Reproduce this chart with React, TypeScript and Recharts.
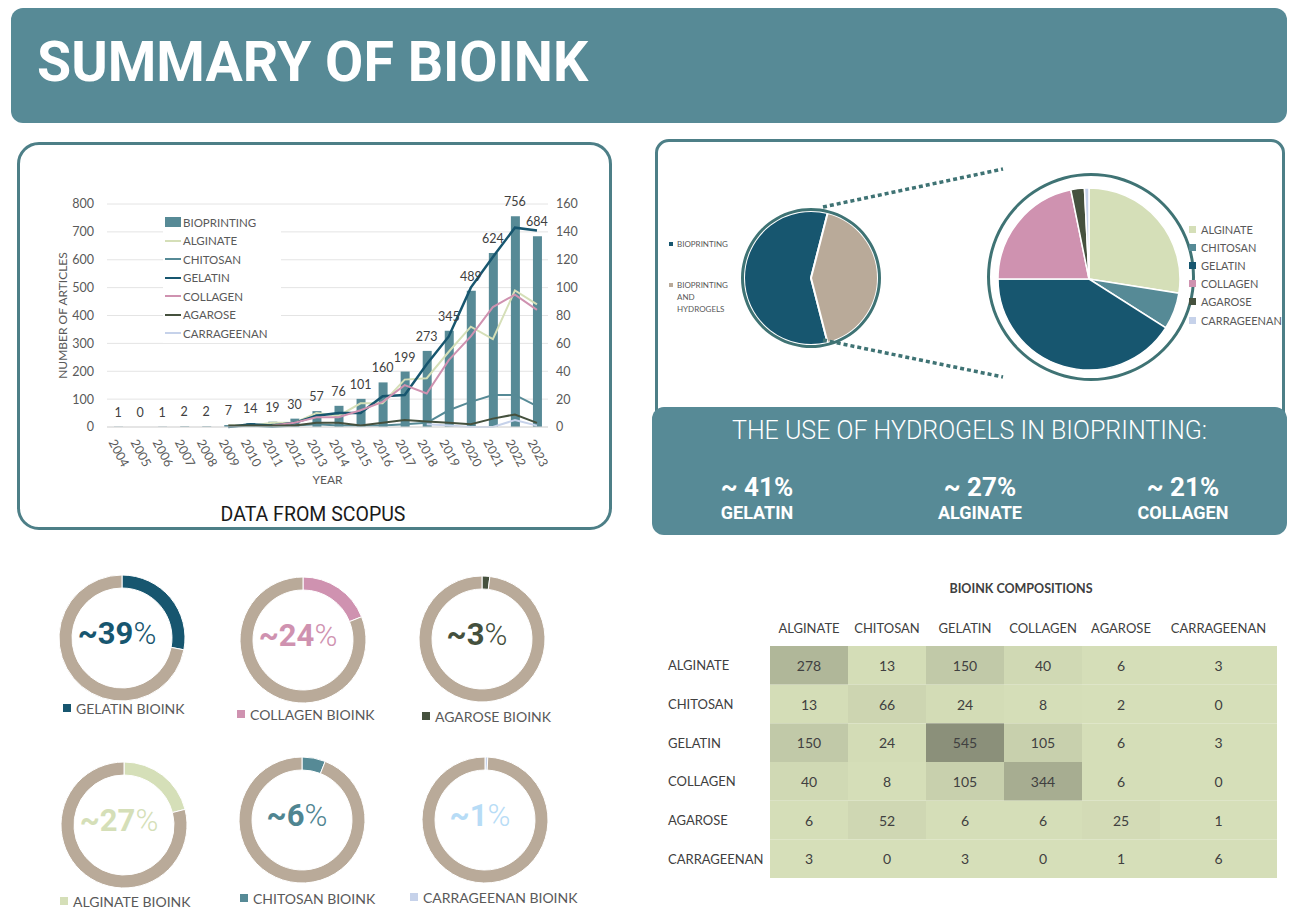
import React from 'react'
import {
  ComposedChart, Bar, Line, XAxis, YAxis, CartesianGrid, Legend, LabelList,
  PieChart, Pie, Cell, ScatterChart, Scatter,
} from 'recharts'

// ---- data ----
const years = ['2004', '2005', '2006', '2007', '2008', '2009', '2010', '2011', '2012', '2013',
  '2014', '2015', '2016', '2017', '2018', '2019', '2020', '2021', '2022', '2023']
const bioprinting = [1, 0, 1, 2, 2, 7, 14, 19, 30, 57, 76, 101, 160, 199, 273, 345, 489, 624, 756, 684]
const alginate = [null, null, null, null, null, 1, 1, 3, 3, 10, 8, 17, 17, 34, 35, 54, 72, 63, 98, 88]
const chitosan = [null, null, null, null, null, 0, 1, 0, 1, 2, 1, 1, 1, 2, 3, 12, 18, 23, 23, 15]
const gelatin = [null, null, null, null, null, 0, 2, 1, 3, 8, 10, 10, 22, 23, 45, 65, 100, 122, 143, 141]
const collagen = [null, null, null, null, null, null, null, 1, 3, 7, 7, 12, 18, 30, 24, 48, 65, 86, 95, 84]
const agarose = [null, null, null, null, null, 1, 1, 1, 1, 3, 3, 1, 3, 5, 4, 3, 2, 6, 9, 3]
const carrageenan = [null, null, null, null, null, null, null, null, null, null, null, null, null, null, 2, 1, 0, 0, 5, 1]
const leftTicks = [0, 100, 200, 300, 400, 500, 600, 700, 800]
const rightTicks = [0, 20, 40, 60, 80, 100, 120, 140, 160]

const splitNames = ['BIOPRINTING', 'BIOPRINTING AND HYDROGELS']
const splitShares = [58, 42]

const hydrogelNames = ['ALGINATE', 'CHITOSAN', 'GELATIN', 'COLLAGEN', 'AGAROSE', 'CARRAGEENAN']
const hydrogelShares = [27.5, 6.5, 41, 21.8, 2.4, 0.8]

const highlightPcts = ['~ 41%', '~ 27%', '~ 21%']
const highlightNames = ['GELATIN', 'ALGINATE', 'COLLAGEN']

const donutNames = ['GELATIN BIOINK', 'COLLAGEN BIOINK', 'AGAROSE BIOINK', 'ALGINATE BIOINK', 'CHITOSAN BIOINK', 'CARRAGEENAN BIOINK']
const donutKeys = ['GELATIN', 'COLLAGEN', 'AGAROSE', 'ALGINATE', 'CHITOSAN', 'CARRAGEENAN']
const donutLabels = ['~39', '~24', '~3', '~27', '~6', '~1']
const donutShares = [28, 19, 2, 21, 6, 0.7]

const matrixValues = [
  [278, 13, 150, 40, 6, 3],
  [13, 66, 24, 8, 2, 0],
  [150, 24, 545, 105, 6, 3],
  [40, 8, 105, 344, 6, 0],
  [6, 52, 6, 6, 25, 1],
  [3, 0, 3, 0, 1, 6],
]

// ---- styles ----
const TEAL = '#578a96'
const BORDER = '#4d7f87'
const GRAY = '#595959'
const TAN = '#b9aa99'
const COLORS: Record<string, string> = {
  BIOPRINTING: TEAL,
  ALGINATE: '#d5dfb8',
  CHITOSAN: '#568a96',
  GELATIN: '#17566f',
  COLLAGEN: '#cf92b0',
  AGAROSE: '#45513e',
  CARRAGEENAN: '#c6d2ea',
}
const legendOrder = ['BIOPRINTING', ...hydrogelNames]
const donutTextColors = ['#17566f', '#cf92b0', '#44503d', '#d5dfb8', '#4f8591', '#b7dcf6']
// centre of each donut, legend anchor
const donutSpots = [
  { cx: 117, cy: 633, lx: 63, ly: 708 },
  { cx: 298, cy: 635, lx: 237, ly: 714 },
  { cx: 477, cy: 634, lx: 422, ly: 716 },
  { cx: 119, cy: 820, lx: 60, ly: 901 },
  { cx: 297, cy: 815, lx: 240, ly: 898 },
  { cx: 480, cy: 815, lx: 410, ly: 897 },
]

const trendData = years.map((year, i) => ({
  year,
  bioprinting: bioprinting[i],
  alginate: alginate[i],
  chitosan: chitosan[i],
  gelatin: gelatin[i],
  collagen: collagen[i],
  agarose: agarose[i],
  carrageenan: carrageenan[i],
}))

const cellData = hydrogelNames.flatMap((row, r) =>
  hydrogelNames.map((col, c) => ({ row, col, v: matrixValues[r][c] }))
)
const maxCell = Math.max(...matrixValues.flat())
const LOW = [214, 223, 185]
const HIGH = [139, 144, 122]
function heatColor(v: number) {
  const t = v / maxCell
  const c = LOW.map((l, i) => Math.round(l + (HIGH[i] - l) * t))
  return `rgb(${c[0]},${c[1]},${c[2]})`
}

const CELL_W = 78
const CELL_H = 232 / 6
const LAST_EXTRA = 39

function YearTick({ x, y, payload }: any) {
  return (
    <text transform={`translate(${x + 1},${y + 18}) rotate(62)`} textAnchor="middle" dominantBaseline="central"
      fill={GRAY} fontSize={12.5}>
      {payload.value}
    </text>
  )
}

function TrendLegend({ payload }: any) {
  const items = [...(payload || [])]
    .filter((p: any) => legendOrder.includes(p.value))
    .sort((a: any, b: any) => legendOrder.indexOf(a.value) - legendOrder.indexOf(b.value))
  return (
    <div style={{ background: '#fff', padding: '0 14px 0 2px', fontSize: 11.5, color: GRAY }}>
      {items.map((p: any) => (
        <div key={p.value} style={{ display: 'flex', alignItems: 'center', height: 18.5 }}>
          {p.type === 'rect'
            ? <span style={{ width: 16, height: 10, background: p.color, marginRight: 2 }} />
            : <span style={{ width: 16, height: 2, background: p.color, marginRight: 2 }} />}
          <span>{p.value}</span>
        </div>
      ))}
    </div>
  )
}

function HeaderTick({ x, payload }: any) {
  const last = payload.value === hydrogelNames[hydrogelNames.length - 1]
  return (
    <text x={x + (last ? LAST_EXTRA / 2 : 0)} y={28} textAnchor="middle" dominantBaseline="central"
      fill="#404040" fontSize={13}>
      {payload.value}
    </text>
  )
}

function RowTick({ y, payload }: any) {
  return (
    <text x={18} y={y} textAnchor="start" dominantBaseline="central" fill="#404040" fontSize={13}>
      {payload.value}
    </text>
  )
}

function HeatCell({ cx, cy, payload }: any) {
  const last = payload.col === hydrogelNames[hydrogelNames.length - 1]
  const w = CELL_W + (last ? LAST_EXTRA : 0)
  const x0 = cx - CELL_W / 2
  return (
    <g>
      <rect x={x0} y={cy - CELL_H / 2} width={w} height={CELL_H} fill={heatColor(payload.v)} />
      <text x={x0 + w / 2} y={cy} textAnchor="middle" dominantBaseline="central" fill="#404040" fontSize={14}>
        {payload.v}
      </text>
    </g>
  )
}

function Donut({ i }: { i: number }) {
  const spot = donutSpots[i]
  const key = donutKeys[i]
  const data = [
    { name: donutNames[i], value: donutShares[i] },
    { name: 'REST', value: 100 - donutShares[i] },
  ]
  return (
    <>
      <div style={{ position: 'absolute', left: spot.cx - 70, top: spot.cy - 70 }}>
        <PieChart width={140} height={140}>
          <Pie data={data} dataKey="value" cx={70} cy={70} innerRadius={50} outerRadius={63}
            startAngle={90} endAngle={-270} stroke="#fff" strokeWidth={1} isAnimationActive={false}>
            <Cell fill={COLORS[key]} />
            <Cell fill={TAN} />
          </Pie>
        </PieChart>
      </div>
      <div style={{
        position: 'absolute', left: spot.cx - 60, width: 120, top: spot.cy - 20, height: 40,
        display: 'flex', alignItems: 'center', justifyContent: 'center',
        fontFamily: 'Roboto, sans-serif', fontSize: 31, color: donutTextColors[i],
      }}>
        <span style={{ fontWeight: 700 }}>{donutLabels[i]}</span>
        <span style={{ fontWeight: 300 }}>%</span>
      </div>
      <div style={{
        position: 'absolute', left: spot.lx, top: spot.ly - 9, height: 18,
        display: 'flex', alignItems: 'center', fontSize: 14, color: GRAY, whiteSpace: 'nowrap',
      }}>
        <span style={{ width: 8, height: 8, background: COLORS[key], marginRight: 5 }} />
        {donutNames[i]}
      </div>
    </>
  )
}

export default function App() {
  const splitData = splitNames.map((name, i) => ({ name, value: splitShares[i] }))
  const hydrogelData = hydrogelNames.map((name, i) => ({ name, value: hydrogelShares[i] }))
  const splitColors = [COLORS.GELATIN, TAN]

  return (
    <div style={{
      position: 'absolute', left: 0, top: 0, width: 1295, height: 911, background: '#fff',
      overflow: 'hidden', fontFamily: 'Lato, sans-serif',
    }}>
      {/* header */}
      <div style={{
        position: 'absolute', left: 11, top: 8, width: 1276, height: 115, background: TEAL, borderRadius: 12,
      }}>
        <div style={{
          position: 'absolute', left: 26, top: 20, fontFamily: 'Roboto, sans-serif', fontWeight: 700,
          fontSize: 55.5, color: '#fff', lineHeight: '70px', whiteSpace: 'nowrap',
        }}>
          SUMMARY OF BIOINK
        </div>
      </div>

      {/* trend chart box */}
      <div style={{
        position: 'absolute', left: 17, top: 142, width: 589, height: 382,
        border: `3px solid ${BORDER}`, borderRadius: 22, background: '#fff',
      }} />
      <div style={{ position: 'absolute', left: 40, top: 190 }}>
        <ComposedChart width={560} height={300} data={trendData} margin={{ top: 14, right: 0, bottom: 0, left: 0 }}>
          <CartesianGrid vertical={false} stroke="#e4e4e4" yAxisId="left" />
          <XAxis dataKey="year" interval={0} height={63} tickLine={false} axisLine={{ stroke: '#d9d9d9' }}
            tick={<YearTick />}
            label={{ value: 'YEAR', position: 'insideBottom', offset: 6, fill: GRAY, fontSize: 12 }} />
          <YAxis yAxisId="left" domain={[0, 800]} ticks={leftTicks} width={67} axisLine={false} tickLine={false}
            tickMargin={7} tick={{ fill: GRAY, fontSize: 12.5 }}
            label={{ value: 'NUMBER OF ARTICLES', angle: -90, position: 'center', dx: -11, fill: GRAY, fontSize: 12 }} />
          <YAxis yAxisId="right" orientation="right" domain={[0, 160]} ticks={rightTicks} width={52}
            axisLine={false} tickLine={false} tick={{ fill: GRAY, fontSize: 12.5 }} />
          <Legend layout="vertical" align="center" verticalAlign="middle" content={<TrendLegend />}
            wrapperStyle={{ left: 123, top: 23, width: 'auto', height: 'auto' }} />
          <Bar yAxisId="left" dataKey="bioprinting" name="BIOPRINTING" fill={COLORS.BIOPRINTING} barSize={9}
            isAnimationActive={false} />
          <Line yAxisId="right" dataKey="alginate" name="ALGINATE" stroke={COLORS.ALGINATE} strokeWidth={2}
            dot={false} isAnimationActive={false} />
          <Line yAxisId="right" dataKey="chitosan" name="CHITOSAN" stroke={COLORS.CHITOSAN} strokeWidth={2}
            dot={false} isAnimationActive={false} />
          <Line yAxisId="right" dataKey="gelatin" name="GELATIN" stroke={COLORS.GELATIN} strokeWidth={2.5}
            dot={false} isAnimationActive={false} />
          <Line yAxisId="right" dataKey="collagen" name="COLLAGEN" stroke={COLORS.COLLAGEN} strokeWidth={2}
            dot={false} isAnimationActive={false} />
          <Line yAxisId="right" dataKey="agarose" name="AGAROSE" stroke={COLORS.AGAROSE} strokeWidth={2}
            dot={false} isAnimationActive={false} />
          <Line yAxisId="right" dataKey="carrageenan" name="CARRAGEENAN" stroke={COLORS.CARRAGEENAN} strokeWidth={2}
            dot={false} isAnimationActive={false} />
          {/* value labels for every bar, including zero-height ones */}
          <Line yAxisId="left" dataKey="bioprinting" name="bar-labels" stroke="none" dot={false} activeDot={false}
            legendType="none" isAnimationActive={false}>
            <LabelList dataKey="bioprinting" position="top" offset={10} fill="#404040" fontSize={12.5} />
          </Line>
        </ComposedChart>
      </div>
      <div style={{
        position: 'absolute', left: 213, width: 200, top: 503, textAlign: 'center', fontFamily: 'Roboto, sans-serif',
        fontSize: 19.5, color: '#1a1a1a', lineHeight: '24px',
      }}>
        DATA FROM SCOPUS
      </div>

      {/* pie of pie box */}
      <div style={{
        position: 'absolute', left: 655, top: 139, width: 624, height: 290,
        border: `3px solid ${BORDER}`, borderRadius: 14, background: '#fff',
      }} />
      <div style={{ position: 'absolute', left: 655, top: 140 }}>
        <PieChart width={630} height={270}>
          <Pie data={splitData} dataKey="value" cx={151} cy={133} outerRadius={67}
            startAngle={75.6} endAngle={435.6} stroke="#fff" strokeWidth={2} isAnimationActive={false}>
            {splitData.map((d, i) => <Cell key={d.name} fill={splitColors[i]} />)}
          </Pie>
          <Pie data={[{ v: 1 }]} dataKey="v" cx={151} cy={133} innerRadius={67} outerRadius={70}
            fill="#3f7374" stroke="none" isAnimationActive={false} />
          <Pie data={hydrogelData} dataKey="value" cx={429} cy={134} outerRadius={91}
            startAngle={90} endAngle={-270} stroke="#fff" strokeWidth={1.5} isAnimationActive={false}>
            {hydrogelData.map((d) => <Cell key={d.name} fill={COLORS[d.name]} />)}
          </Pie>
          <Pie data={[{ v: 1 }]} dataKey="v" cx={431} cy={132} innerRadius={101} outerRadius={104}
            fill="#3f7374" stroke="none" isAnimationActive={false} />
        </PieChart>
      </div>
      <svg style={{ position: 'absolute', left: 0, top: 0 }} width={1295} height={911} pointerEvents="none">
        <line x1={823} y1={207} x2={1003} y2={169} stroke="#3f7374" strokeWidth={3.5} strokeDasharray="4 3" />
        <line x1={823} y1={340} x2={1003} y2={377} stroke="#3f7374" strokeWidth={3.5} strokeDasharray="4 3" />
      </svg>
      {/* left pie legend */}
      <div style={{ position: 'absolute', left: 669, top: 238, fontSize: 8, color: GRAY, lineHeight: '12px' }}>
        <div style={{ display: 'flex', alignItems: 'center' }}>
          <span style={{ width: 4, height: 4, background: COLORS.GELATIN, marginRight: 4 }} />
          {splitNames[0]}
        </div>
        <div style={{ display: 'flex', alignItems: 'flex-start', marginTop: 29, width: 70 }}>
          <span style={{ width: 4, height: 4, background: TAN, marginRight: 4, marginTop: 4, flex: 'none' }} />
          <span>BIOPRINTING<br />AND<br />HYDROGELS</span>
        </div>
      </div>
      {/* right pie legend */}
      <div style={{ position: 'absolute', left: 1189, top: 220, fontSize: 11, color: GRAY }}>
        {hydrogelNames.map((n) => (
          <div key={n} style={{ display: 'flex', alignItems: 'center', height: 18.2 }}>
            <span style={{ width: 7, height: 7, background: COLORS[n], marginRight: 5 }} />
            {n}
          </div>
        ))}
      </div>

      {/* highlight box */}
      <div style={{
        position: 'absolute', left: 652, top: 407, width: 635, height: 128, background: TEAL, borderRadius: 12,
        fontFamily: 'Roboto, sans-serif', color: '#fff',
      }}>
        <div style={{
          position: 'absolute', left: 0, right: 0, top: 9, textAlign: 'center', fontSize: 25, fontWeight: 300,
          lineHeight: '30px',
        }}>
          THE USE OF HYDROGELS IN BIOPRINTING:
        </div>
        {highlightPcts.map((p, i) => (
          <div key={p} style={{
            position: 'absolute', left: [105, 328, 531][i] - 80, width: 160, top: 64, textAlign: 'center', fontWeight: 700,
          }}>
            <div style={{ fontSize: 26, lineHeight: '32px' }}>{p}</div>
            <div style={{ fontSize: 18, lineHeight: '20px' }}>{highlightNames[i]}</div>
          </div>
        ))}
      </div>

      {/* donuts */}
      {donutNames.map((n, i) => <Donut key={n} i={i} />)}

      {/* heatmap */}
      <div style={{
        position: 'absolute', left: 921, width: 200, top: 581, textAlign: 'center', fontSize: 12.5,
        fontWeight: 700, color: '#404040',
      }}>
        BIOINK COMPOSITIONS
      </div>
      <div style={{ position: 'absolute', left: 650, top: 600 }}>
        <ScatterChart width={640} height={290} margin={{ top: 0, right: 52, bottom: 12, left: 0 }}>
          <XAxis type="category" dataKey="col" orientation="top" allowDuplicatedCategory={false} height={46}
            axisLine={false} tickLine={false} tick={<HeaderTick />} interval={0} />
          <YAxis type="category" dataKey="row" allowDuplicatedCategory={false} width={120} axisLine={false}
            tickLine={false} tick={<RowTick />} interval={0} reversed />
          <Scatter data={cellData} shape={<HeatCell />} isAnimationActive={false} />
        </ScatterChart>
      </div>
    </div>
  )
}
